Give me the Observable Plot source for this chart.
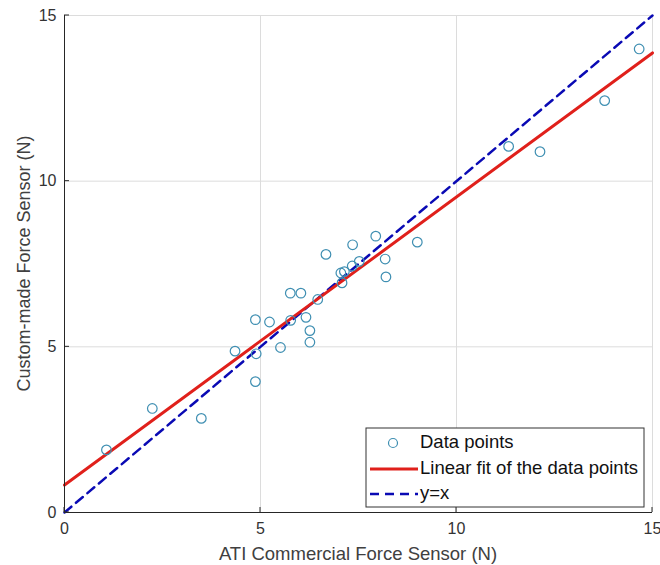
<!DOCTYPE html>
<html>
<head>
<meta charset="utf-8">
<script src="https://cdn.jsdelivr.net/npm/d3@7"></script>
<script src="https://cdn.jsdelivr.net/npm/@observablehq/plot@0.6"></script>
<style>
  html, body { margin: 0; padding: 0; background: #fff; }
  #chart svg { display: block; }
</style>
</head>
<body>
<div id="chart"></div>
<script>
// Measured data points (ATI sensor vs custom-made sensor, N)
const atiForce = [1.07, 2.24, 3.49, 4.35, 4.87, 4.89, 4.87, 5.23, 5.51, 5.76, 6.03, 5.77, 6.16, 6.26, 6.26, 6.46,
                  6.67, 7.05, 7.14, 7.08, 7.34, 7.35, 7.52, 7.94, 8.18, 8.20, 9.00, 11.33, 12.13, 13.78, 14.66];
const customForce = [1.89, 3.14, 2.84, 4.87, 5.82, 4.79, 3.95, 5.75, 4.98, 6.62, 6.62, 5.80, 5.89, 5.49, 5.14, 6.43,
                     7.79, 7.23, 7.27, 6.93, 7.44, 8.08, 7.58, 8.34, 7.65, 7.11, 8.16, 11.05, 10.89, 12.43, 13.99];
// Linear fit line endpoints
const fitX = [0, 15];
const fitY = [0.83, 13.87];
// y = x reference line
const refX = [0, 15];
const refY = [0, 15];
// Axis ticks
const ticks = [0, 5, 10, 15];
const legendLabels = ["Data points", "Linear fit of the data points", "y=x"];

const points = atiForce.map((x, i) => ({x, y: customForce[i]}));
const fit = fitX.map((x, i) => ({x, y: fitY[i]}));
const ref = refX.map((x, i) => ({x, y: refY[i]}));

const W = 660, H = 565;
const mL = 64, mR = 8, mT = 15, mB = 53;
const axisColor = "#262626";
const markerColor = "#3f8fb2";
const fitColor = "#e0201b";
const refColor = "#0a0ab4";

const plot = Plot.plot({
  width: W,
  height: H,
  marginLeft: mL,
  marginRight: mR,
  marginTop: mT,
  marginBottom: mB,
  style: {fontFamily: "'Liberation Sans', Arial, sans-serif", fontSize: "16px", color: axisColor, background: "#fff", overflow: "visible"},
  x: {type: "linear", domain: [0, 15], ticks: ticks, label: null},
  y: {type: "linear", domain: [0, 15], ticks: ticks, label: null},
  marks: [
    Plot.gridX({ticks: ticks, stroke: "#dcdcdc", strokeOpacity: 1, strokeWidth: 1}),
    Plot.gridY({ticks: ticks, stroke: "#dcdcdc", strokeOpacity: 1, strokeWidth: 1}),
    Plot.axisX({ticks: ticks, tickSize: 0, tickPadding: 10, fontSize: 16, fill: "#333", label: null}),
    Plot.axisY({ticks: ticks, tickSize: 0, tickPadding: 8, fontSize: 16, fill: "#333", label: null}),
    Plot.line(ref, {x: "x", y: "y", stroke: refColor, strokeWidth: 2.5, strokeDasharray: "9,6"}),
    Plot.line(fit, {x: "x", y: "y", stroke: fitColor, strokeWidth: 3}),
    Plot.dot(points, {x: "x", y: "y", r: 4.8, stroke: markerColor, strokeWidth: 1.2, fill: "none"}),
    Plot.ruleX([0], {stroke: axisColor, strokeWidth: 1}),
    Plot.ruleY([0], {stroke: axisColor, strokeWidth: 1})
  ]
});

document.getElementById("chart").appendChild(plot);

const svg = d3.select(plot);
const xs = plot.scale("x"), ys = plot.scale("y");
const x0 = xs.apply(0), y0 = ys.apply(0);

// Inward tick marks (MATLAB style)
const tg = svg.append("g").attr("stroke", axisColor).attr("stroke-width", 1);
ticks.forEach(t => {
  tg.append("line").attr("x1", xs.apply(t)).attr("x2", xs.apply(t)).attr("y1", y0).attr("y2", y0 - 5);
  tg.append("line").attr("y1", ys.apply(t)).attr("y2", ys.apply(t)).attr("x1", x0).attr("x2", x0 + 5);
});

// Axis labels
svg.append("text")
  .attr("x", (xs.apply(0) + xs.apply(15)) / 2)
  .attr("y", 560)
  .attr("text-anchor", "middle")
  .attr("font-size", 18.5)
  .attr("fill", "#404040")
  .text("ATI Commercial Force Sensor (N)");
svg.append("text")
  .attr("transform", `translate(${25},${(ys.apply(0) + ys.apply(15)) / 2}) rotate(-90)`)
  .attr("text-anchor", "middle")
  .attr("dominant-baseline", "middle")
  .attr("font-size", 18)
  .attr("fill", "#404040")
  .text("Custom-made Force Sensor (N)");

// Legend
const lx0 = 366, ly0 = 428, lw = 278, lh = 79;
const g = svg.append("g");
g.append("rect").attr("x", lx0).attr("y", ly0).attr("width", lw).attr("height", lh)
  .attr("fill", "#fff").attr("stroke", "#333").attr("stroke-width", 1);
const rowY = [443, 469, 494];
g.append("circle").attr("cx", 393).attr("cy", rowY[0]).attr("r", 4.5)
  .attr("fill", "none").attr("stroke", markerColor).attr("stroke-width", 1.2);
g.append("line").attr("x1", 370).attr("x2", 418).attr("y1", rowY[1]).attr("y2", rowY[1])
  .attr("stroke", fitColor).attr("stroke-width", 3);
g.append("line").attr("x1", 370).attr("x2", 418).attr("y1", rowY[2]).attr("y2", rowY[2])
  .attr("stroke", refColor).attr("stroke-width", 2.5).attr("stroke-dasharray", "9,6");
legendLabels.forEach((t, i) => {
  g.append("text").attr("x", 420).attr("y", rowY[i]).attr("text-anchor", "start").attr("dominant-baseline", "middle")
    .attr("font-size", 18.5).attr("fill", "#111").text(t);
});
</script>
</body>
</html>
